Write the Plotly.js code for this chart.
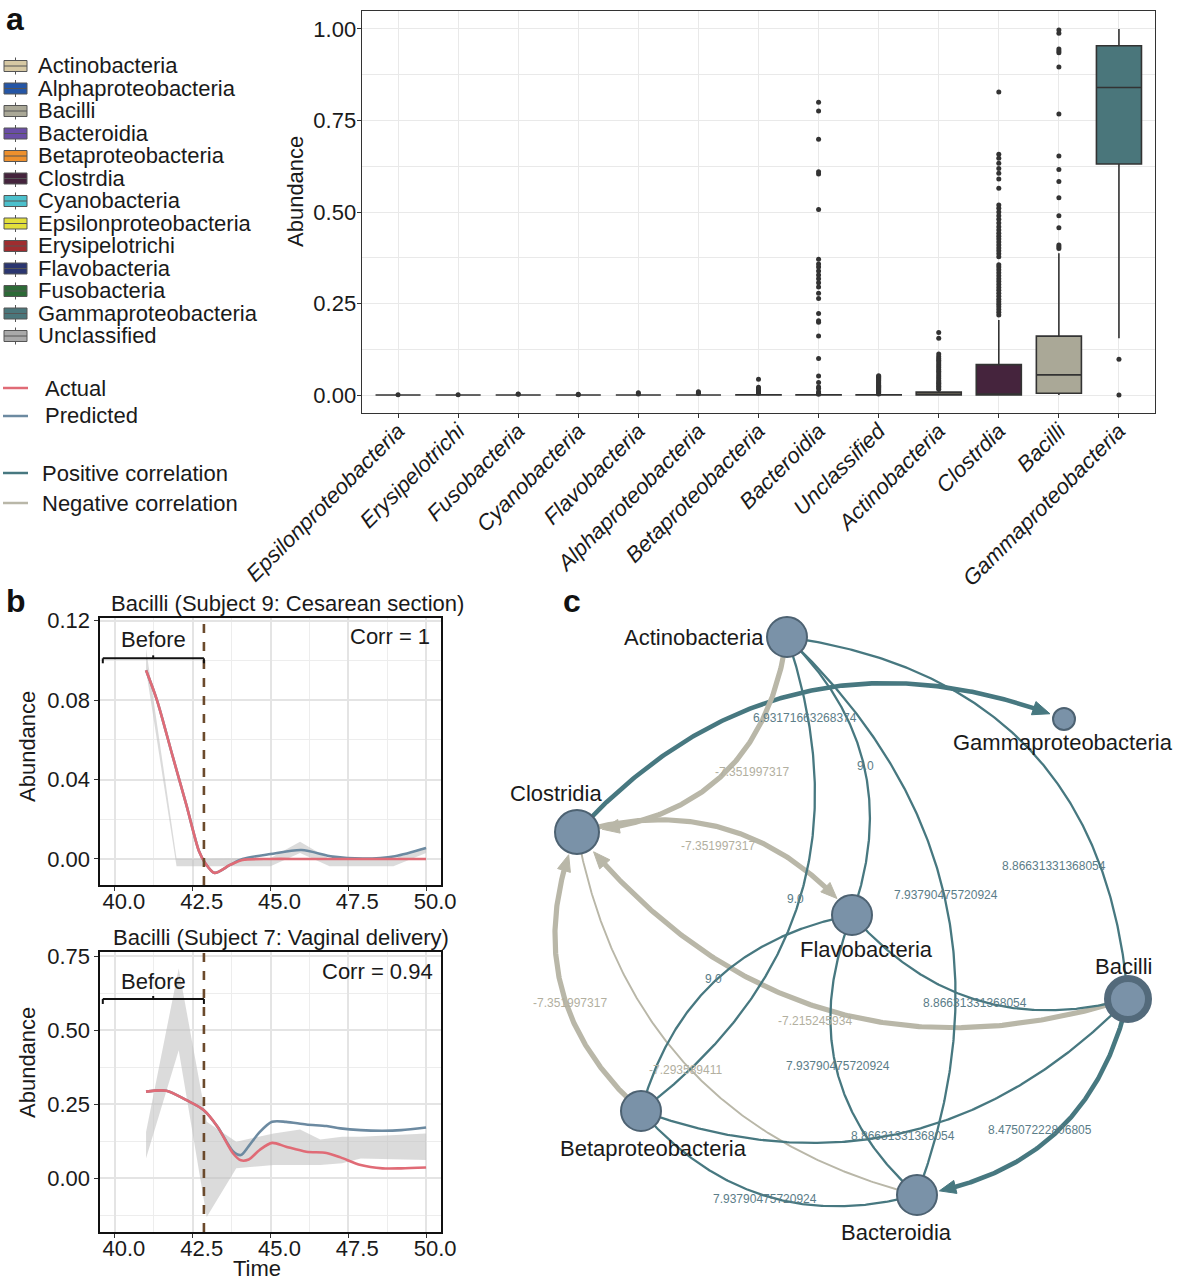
<!DOCTYPE html>
<html><head><meta charset="utf-8">
<script src="https://cdn.plot.ly/plotly-3.0.1.min.js"></script>
<style>html,body{margin:0;padding:0;background:#fff}#chart{width:1181px;height:1280px}</style>
</head><body><div id="chart"></div>
<script>
// ---------------- Panel a data ----------------
const categories = ['Epsilonproteobacteria','Erysipelotrichi','Fusobacteria','Cyanobacteria','Flavobacteria','Alphaproteobacteria','Betaproteobacteria','Bacteroidia','Unclassified','Actinobacteria','Clostrdia','Bacilli','Gammaproteobacteria'];
const boxQ1     = [0,0,0,0,0,0,0,0,0,0,0,0.005,0.631];
const boxMedian = [0,0,0,0,0,0,0,0,0,0.001,0.001,0.055,0.840];
const boxQ3     = [0,0,0,0,0,0,0.001,0.001,0.001,0.008,0.083,0.161,0.954];
const boxLower  = [0,0,0,0,0,0,0,0,0,0,0,0,0.155];
const boxUpper  = [0,0,0,0,0.001,0.001,0.002,0.002,0.002,0.014,0.205,0.387,1.0];

const outEpsilon = [0.001];
const outErysipelotrichi = [0.001];
const outFusobacteria = [0.002,0.003];
const outCyanobacteria = [0.001,0.002];
const outFlavobacteria = [0.003,0.006];
const outAlphaproteobacteria = [0.004,0.006,0.009];
const outBetaproteobacteria = [0.005,0.008,0.011,0.014,0.017,0.021,0.043];
const outBacteroidia = [0.002,0.005,0.009,0.018,0.022,0.034,0.052,0.10,0.161,0.199,0.203,0.223,0.264,0.278,0.295,0.307,0.318,0.328,0.339,0.35,0.358,0.371,0.507,0.604,0.610,0.699,0.776,0.800];
const outUnclassified = [0.003,0.006,0.009,0.012,0.015,0.018,0.021,0.024,0.027,0.030,0.033,0.036,0.039,0.042,0.045,0.048,0.051,0.053];
const outActinobacteria = [0.016,0.02,0.024,0.028,0.032,0.036,0.04,0.045,0.05,0.055,0.06,0.065,0.07,0.075,0.08,0.085,0.09,0.095,0.10,0.105,0.112,0.155,0.171];
const outClostrdia = [0.219,0.226,0.234,0.241,0.248,0.255,0.262,0.27,0.278,0.286,0.294,0.302,0.31,0.318,0.326,0.334,0.342,0.35,0.356,0.378,0.386,0.394,0.402,0.41,0.418,0.426,0.434,0.442,0.451,0.46,0.47,0.48,0.49,0.50,0.51,0.519,0.565,0.59,0.606,0.619,0.633,0.647,0.658,0.828];
const outBacilli = [0.40,0.405,0.41,0.457,0.49,0.539,0.583,0.616,0.653,0.768,0.896,0.935,0.94,0.945,0.988,0.997];
const outGammaproteobacteria = [0.0,0.098];

const legendClasses = ['Actinobacteria','Alphaproteobacteria','Bacilli','Bacteroidia','Betaproteobacteria','Clostrdia','Cyanobacteria','Epsilonproteobacteria','Erysipelotrichi','Flavobacteria','Fusobacteria','Gammaproteobacteria','Unclassified'];
const classColors = ['#d6c8a3','#2556a6','#aaa897','#6a4ea6','#ee902d','#45243d','#4cc0cc','#e2df3b','#a02c2f','#2b3670','#2d6a37','#4a767b','#a9a9a9'];

// ---------------- Panel b data ----------------
const birthTime = 42.86;
const s9Time      = [41.0,41.35,41.85,42.3,42.7,42.9,43.2,43.7,44.1,45.0,46.0,47.0,48.0,49.0,50.0];
const s9Actual    = [0.095,0.080,0.052,0.027,0.004,-0.002,-0.007,-0.003,-0.0005,0,0,0,0,0,0];
const s9Predicted = [0.095,0.080,0.052,0.027,0.004,-0.002,-0.007,-0.003,0.0,0.0025,0.0045,0.0012,0.0002,0.0014,0.0055];
const s9BandTime  = [41.0,41.98,43.0,44.0,45.0,45.95,46.9,48.0,48.95,50.0];
const s9BandHigh  = [0.106,0.0003,0.0003,0.0003,0.0005,0.0087,0.0,0.0,0.0,0.0062];
const s9BandLow   = [0.095,-0.0036,-0.0036,-0.0036,-0.0036,0.003,-0.0036,-0.0036,-0.0036,0.003];

const s7Time      = [41.0,41.65,42.3,42.85,43.3,43.8,44.05,44.3,44.65,45.05,45.5,46.15,46.8,47.25,47.9,48.6,49.2,50.0];
const s7Actual    = [0.292,0.295,0.263,0.23,0.173,0.083,0.06,0.063,0.095,0.119,0.106,0.089,0.085,0.07,0.044,0.033,0.033,0.036];
const s7Predicted = [0.292,0.295,0.263,0.23,0.173,0.09,0.078,0.108,0.155,0.19,0.19,0.181,0.176,0.168,0.162,0.16,0.162,0.171];
const s7BandTime  = [41.0,42.05,42.95,43.9,45.1,45.95,46.6,47.3,47.9,50.0];
const s7BandHigh  = [0.156,0.708,0.19,0.123,0.151,0.164,0.13,0.14,0.14,0.151];
const s7BandLow   = [0.067,0.432,-0.131,0.033,0.044,0.044,0.044,0.05,0.066,0.061];

// ---------------- Panel c data ----------------
const nodeNames = ['Actinobacteria','Gammaproteobacteria','Clostridia','Flavobacteria','Bacilli','Betaproteobacteria','Bacteroidia'];
const nodeX = [787,1064,577,852,1128,641,917];
const nodeY = [637,719,832,915,999,1111,1195];
const edgeFrom = ['Clostridia','Actinobacteria','Clostridia','Bacilli','Betaproteobacteria','Clostridia','Actinobacteria','Actinobacteria','Actinobacteria','Actinobacteria','Betaproteobacteria','Flavobacteria','Flavobacteria','Betaproteobacteria','Betaproteobacteria','Bacilli'];
const edgeTo   = ['Gammaproteobacteria','Clostridia','Flavobacteria','Clostridia','Clostridia','Bacteroidia','Bacilli','Bacteroidia','Flavobacteria','Betaproteobacteria','Flavobacteria','Bacilli','Bacteroidia','Bacilli','Bacteroidia','Bacteroidia'];
const edgeWeight = [6.93171663268374,-7.351997317,-7.351997317,-7.215245934,-7.351997317,-7.293589411,8.86631331368054,7.93790475720924,9.0,9.0,9.0,8.86631331368054,7.93790475720924,8.86631331368054,7.93790475720924,8.47507222806805];
const edgeLabel  = ['6.93171663268374','-7.351997317','-7.351997317','-7.215245934','-7.351997317','-7.293589411','8.86631331368054','7.93790475720924','9.0','9.0','9.0','8.86631331368054','7.93790475720924','8.86631331368054','7.93790475720924','8.47507222806805'];
const edgeDirected = [true,true,true,true,true,false,false,false,false,false,false,false,false,false,false,true];

// ---------------- style / layout helpers ----------------
const W = 1181, H = 1280;
const px = x => x / W, py = y => 1 - y / H;
const FONT = 'Liberation Sans, Arial, Helvetica, sans-serif';
const TXT = '#1a1a1a';
const nodeSize = [40,22,44,40,41,40,40];
const nodeRing = [2,2,2,2,7,2,2];
const nodeLabelDX = [-21,-1,-21,14,-5,12,-21];
const nodeLabelDY = [0,23,-39,34,-33,37,37];
const nodeLabelAnchor = ['right','center','center','center','center','center','center'];
const edgeBend = [-0.17,-0.2,-0.16,-0.17,-0.175,0.16,-0.2,-0.165,-0.16,-0.18,-0.156,0.156,0.174,0.16,0.156,-0.17];
const edgeLabelDX = [4,31,-10,-9,10,-3,24,2,2,-4,-2,-2,2,1,-1,-16];
const edgeLabelDY = [25,-5,16,12,20,2,116,0,0,-1,-1,3,0,3,3,-3];
const POS = '#477880', NEG = '#b9b7a8', POSLAB = '#5b7d88', NEGLAB = '#b2af9f';

const traces = [];
const shapes = [];
const annotations = [];

// ---------- Panel a: boxes ----------
const outSets = [outEpsilon,outErysipelotrichi,outFusobacteria,outCyanobacteria,outFlavobacteria,outAlphaproteobacteria,outBetaproteobacteria,outBacteroidia,outUnclassified,outActinobacteria,outClostrdia,outBacilli,outGammaproteobacteria];
categories.forEach((c, i) => {
  traces.push({
    type: 'box', x: [c], q1: [boxQ1[i]], median: [boxMedian[i]], q3: [boxQ3[i]],
    lowerfence: [boxLower[i]], upperfence: [boxUpper[i]],
    width: 0.75, whiskerwidth: 0, boxpoints: false,
    fillcolor: classColors[legendClasses.indexOf(c)],
    line: { color: '#333333', width: 1.6 },
    xaxis: 'x', yaxis: 'y', showlegend: false, hoverinfo: 'skip'
  });
});
const oX = [], oY = [];
outSets.forEach((arr, i) => arr.forEach(v => { oX.push(categories[i]); oY.push(v); }));
traces.push({ type: 'scatter', mode: 'markers', x: oX, y: oY, xaxis: 'x', yaxis: 'y',
  marker: { color: '#333333', size: 5, opacity: 1 }, showlegend: false, hoverinfo: 'skip' });

// ---------- Panel b ----------
function addSubject(t, hi, lo, bt, act, pred, xa, ya) {
  traces.push({ type: 'scatter', mode: 'lines', x: bt, y: hi, xaxis: xa, yaxis: ya, line: { width: 0, color: 'rgba(0,0,0,0)' }, showlegend: false, hoverinfo: 'skip' });
  traces.push({ type: 'scatter', mode: 'lines', x: bt, y: lo, xaxis: xa, yaxis: ya, fill: 'tonexty', fillcolor: 'rgba(190,190,190,0.55)', line: { width: 0, color: 'rgba(0,0,0,0)' }, showlegend: false, hoverinfo: 'skip' });
  traces.push({ type: 'scatter', mode: 'lines', x: t, y: pred, xaxis: xa, yaxis: ya, line: { color: '#6c8aa1', width: 2.6, shape: 'spline', smoothing: 0.8 }, showlegend: false, hoverinfo: 'skip' });
  traces.push({ type: 'scatter', mode: 'lines', x: t, y: act, xaxis: xa, yaxis: ya, line: { color: '#e06b76', width: 2.6, shape: 'spline', smoothing: 0.8 }, showlegend: false, hoverinfo: 'skip' });
}
addSubject(s9Time, s9BandHigh, s9BandLow, s9BandTime, s9Actual, s9Predicted, 'x2', 'y2');
addSubject(s7Time, s7BandHigh, s7BandLow, s7BandTime, s7Actual, s7Predicted, 'x3', 'y3');

[['x2','y2'],['x3','y3']].forEach(([xa, ya]) => {
  shapes.push({ type: 'line', xref: xa, yref: ya + ' domain', x0: birthTime, x1: birthTime, y0: 0, y1: 1,
    line: { color: '#6b4a2c', width: 2.6, dash: 'dash' } });
});
function bracket(xa, ya, yv, tickDown, tickUp, textY) {
  const l = { color: '#111', width: 2 };
  shapes.push({ type: 'line', xref: xa, yref: ya, x0: 39.61, x1: birthTime, y0: yv, y1: yv, line: l });
  shapes.push({ type: 'line', xref: xa, yref: ya, x0: 39.61, x1: 39.61, y0: yv, y1: yv - tickDown, line: l });
  shapes.push({ type: 'line', xref: xa, yref: ya, x0: birthTime, x1: birthTime, y0: yv, y1: yv - tickDown, line: l });
  shapes.push({ type: 'line', xref: xa, yref: ya, x0: 41.23, x1: 41.23, y0: yv, y1: yv + tickUp, line: l });
  annotations.push({ xref: xa, yref: ya, x: 41.23, y: textY, text: 'Before', showarrow: false, xanchor: 'center', yanchor: 'middle', font: { size: 22, color: TXT } });
}
bracket('x2', 'y2', 0.101, 0.0025, 0.0015, 0.1107);
bracket('x3', 'y3', 0.605, 0.017, 0.01, 0.6655);
annotations.push({ xref: 'x2 domain', yref: 'y2 domain', x: 0.975, y: 0.93, text: 'Corr = 1', showarrow: false, xanchor: 'right', yanchor: 'middle', font: { size: 22, color: TXT } });
annotations.push({ xref: 'x3 domain', yref: 'y3 domain', x: 0.982, y: 0.93, text: 'Corr = 0.94', showarrow: false, xanchor: 'right', yanchor: 'middle', font: { size: 22, color: TXT } });
annotations.push({ xref: 'paper', yref: 'paper', x: px(287), y: py(603), text: 'Bacilli (Subject 9: Cesarean section)', showarrow: false, xanchor: 'center', yanchor: 'middle', font: { size: 22, color: TXT } });
annotations.push({ xref: 'paper', yref: 'paper', x: px(281), y: py(937), text: 'Bacilli (Subject 7: Vaginal delivery)', showarrow: false, xanchor: 'center', yanchor: 'middle', font: { size: 22, color: TXT } });
annotations.push({ xref: 'paper', yref: 'paper', x: px(27), y: py(747), text: 'Abundance', textangle: -90, showarrow: false, xanchor: 'center', yanchor: 'middle', font: { size: 22, color: TXT } });
annotations.push({ xref: 'paper', yref: 'paper', x: px(27), y: py(1063), text: 'Abundance', textangle: -90, showarrow: false, xanchor: 'center', yanchor: 'middle', font: { size: 22, color: TXT } });
annotations.push({ xref: 'paper', yref: 'paper', x: px(257), y: py(1268), text: 'Time', showarrow: false, xanchor: 'center', yanchor: 'middle', font: { size: 22, color: TXT } });
annotations.push({ xref: 'paper', yref: 'paper', x: px(295), y: py(192), text: 'Abundance', textangle: -90, showarrow: false, xanchor: 'center', yanchor: 'middle', font: { size: 22, color: TXT } });

// panel letters
[['a', 15, 0], ['b', 16, 582], ['c', 572, 582]].forEach(([t, x, y]) => {
  annotations.push({ xref: 'paper', yref: 'paper', x: px(x), y: py(y), text: '<b>' + t + '</b>', showarrow: false, xanchor: 'center', yanchor: 'top', borderpad: 0, font: { size: 32, color: '#111' } });
});

// ---------- Legends (left) ----------
legendClasses.forEach((c, i) => {
  const y = 66 + i * 22.5;
  const l = { color: '#555', width: 1 };
  shapes.push({ type: 'rect', xref: 'paper', yref: 'paper', x0: px(4), x1: px(27), y0: py(y + 5.5), y1: py(y - 5.5), fillcolor: classColors[i], line: l });
  shapes.push({ type: 'line', xref: 'paper', yref: 'paper', x0: px(4), x1: px(27), y0: py(y), y1: py(y), line: l });
  shapes.push({ type: 'line', xref: 'paper', yref: 'paper', x0: px(15.5), x1: px(15.5), y0: py(y - 8.5), y1: py(y - 5.5), line: l });
  shapes.push({ type: 'line', xref: 'paper', yref: 'paper', x0: px(15.5), x1: px(15.5), y0: py(y + 5.5), y1: py(y + 8.5), line: l });
  annotations.push({ xref: 'paper', yref: 'paper', x: px(36), y: py(y), text: c, showarrow: false, xanchor: 'left', yanchor: 'middle', font: { size: 22, color: TXT } });
});
[['Actual', '#e06b76', 388, 43], ['Predicted', '#6c8aa1', 416, 43], ['Positive correlation', POS, 473, 40], ['Negative correlation', NEG, 503, 40]].forEach(([t, col, y, tx]) => {
  shapes.push({ type: 'line', xref: 'paper', yref: 'paper', x0: px(3), x1: px(28), y0: py(y), y1: py(y), line: { color: col, width: 2.5 } });
  annotations.push({ xref: 'paper', yref: 'paper', x: px(tx), y: py(y), text: t, showarrow: false, xanchor: 'left', yanchor: 'middle', font: { size: 22, color: TXT } });
});

// ---------- Panel c: network ----------
const idx = n => nodeNames.indexOf(n);
const outerR = i => nodeSize[i] / 2 + nodeRing[i] / 2;
function bez(a, c, b, t) { const u = 1 - t; return [u*u*a[0] + 2*u*t*c[0] + t*t*b[0], u*u*a[1] + 2*u*t*c[1] + t*t*b[1]]; }
edgeFrom.forEach((f, e) => {
  const ia = idx(f), ib = idx(edgeTo[e]);
  const A = [nodeX[ia], nodeY[ia]], B = [nodeX[ib], nodeY[ib]];
  const dx = B[0] - A[0], dy = B[1] - A[1];
  const M = [(A[0] + B[0]) / 2, (A[1] + B[1]) / 2];
  const C = [M[0] + 2 * edgeBend[e] * (-dy), M[1] + 2 * edgeBend[e] * dx];
  const N = 240;
  const pts = [];
  for (let k = 0; k <= N; k++) pts.push(bez(A, C, B, k / N));
  const pos = edgeWeight[e] > 0;
  const col = pos ? POS : NEG;
  const width = edgeDirected[e] ? (pos ? 4.6 : 5.2) : (pos ? 2.3 : 1.9);
  let linePts = pts;
  if (edgeDirected[e]) {
    const r = outerR(ib) + 1;
    let tip = N;
    while (tip > 0 && Math.hypot(pts[tip][0] - B[0], pts[tip][1] - B[1]) < r) tip--;
    let base = tip;
    const alen = 16;
    while (base > 0 && Math.hypot(pts[base][0] - pts[tip][0], pts[base][1] - pts[tip][1]) < alen) base--;
    linePts = pts.slice(0, base + 2);
    const T = pts[tip], Bs = pts[base];
    const ux = (T[0] - Bs[0]) / alen, uy = (T[1] - Bs[1]) / alen;
    const hw = 6.5;
    const p1 = [Bs[0] - uy * hw, Bs[1] + ux * hw], p2 = [Bs[0] + uy * hw, Bs[1] - ux * hw];
    traces.push({ type: 'scatter', mode: 'lines', x: [T[0], p1[0], p2[0], T[0]], y: [T[1], p1[1], p2[1], T[1]],
      fill: 'toself', fillcolor: col, line: { color: col, width: 1 }, xaxis: 'x4', yaxis: 'y4', showlegend: false, hoverinfo: 'skip', cliponaxis: false });
  }
  traces.push({ type: 'scatter', mode: 'lines', x: linePts.map(p => p[0]), y: linePts.map(p => p[1]),
    line: { color: col, width: width }, xaxis: 'x4', yaxis: 'y4', showlegend: false, hoverinfo: 'skip', cliponaxis: false });
  const mid = bez(A, C, B, 0.5);
  annotations.push({ xref: 'x4', yref: 'y4', x: mid[0] + edgeLabelDX[e], y: mid[1] + edgeLabelDY[e], text: edgeLabel[e], showarrow: false,
    xanchor: 'center', yanchor: 'middle', font: { size: 12, color: pos ? POSLAB : NEGLAB } });
});
traces.push({ type: 'scatter', mode: 'markers', x: nodeX, y: nodeY, xaxis: 'x4', yaxis: 'y4', cliponaxis: false,
  marker: { size: nodeSize, opacity: 1, color: '#7a92a8', line: { color: nodeRing.map(w => w > 2 ? '#536a7b' : '#4d6272'), width: nodeRing } },
  showlegend: false, hoverinfo: 'skip' });
nodeNames.forEach((n, i) => {
  annotations.push({ xref: 'x4', yref: 'y4', x: nodeX[i] + nodeLabelDX[i], y: nodeY[i] + nodeLabelDY[i], text: n, showarrow: false,
    xanchor: nodeLabelAnchor[i], yanchor: 'middle', font: { size: 22, color: TXT } });
});

// ---------- Layout ----------
const gridA = '#e9e9e9';
const bAxisX = (dom, anchor) => ({
  domain: dom, anchor: anchor, range: [39.52, 50.48], tick0: 40, dtick: 2.5, tickformat: '.1f',
  showgrid: true, gridcolor: '#e4e4e4', gridwidth: 2,
  minor: { dtick: 1.25, tick0: 40, showgrid: true, gridcolor: '#ededed', gridwidth: 1 },
  showline: true, mirror: true, linecolor: '#111', linewidth: 1.6, zeroline: false,
  ticks: 'outside', ticklen: 4, tickcolor: '#333', ticklabelshift: 9, ticklabelstandoff: -8,
  tickfont: { size: 22, color: TXT, family: FONT }, fixedrange: true
});
const layout = {
  width: W, height: H, margin: { l: 0, r: 0, t: 0, b: 0 },
  paper_bgcolor: '#ffffff', plot_bgcolor: 'rgba(0,0,0,0)', showlegend: false,
  font: { family: FONT, color: TXT },
  boxmode: 'overlay',
  xaxis: {
    domain: [px(362), px(1155)], anchor: 'y', type: 'category', categoryorder: 'array', categoryarray: categories,
    range: [-0.6, 12.6], showgrid: true, gridcolor: gridA, gridwidth: 1,
    showline: true, mirror: true, linecolor: '#333', linewidth: 1.4, zeroline: false,
    ticks: 'outside', ticklen: 4, tickcolor: '#333', tickangle: -45, ticklabelstandoff: -9,
    tickfont: { size: 22, style: 'italic', color: TXT, family: FONT }, fixedrange: true
  },
  yaxis: {
    domain: [py(413), py(11)], anchor: 'x', range: [-0.049, 1.049], tick0: 0, dtick: 0.25, tickformat: '.2f',
    showgrid: true, gridcolor: gridA, gridwidth: 1,
    minor: { dtick: 0.125, tick0: 0, showgrid: true, gridcolor: gridA, gridwidth: 1 },
    showline: true, mirror: true, linecolor: '#333', linewidth: 1.4, zeroline: false,
    ticks: 'outside', ticklen: 4, tickcolor: '#333', ticklabelstandoff: -4,
    tickfont: { size: 22, color: TXT, family: FONT }, fixedrange: true
  },
  xaxis2: bAxisX([px(100), px(441)], 'y2'),
  yaxis2: {
    domain: [py(885), py(618)], anchor: 'x2', range: [-0.0131, 0.1213], tick0: 0, dtick: 0.04, tickformat: '.2f',
    showgrid: true, gridcolor: '#e4e4e4', gridwidth: 2,
    minor: { dtick: 0.02, tick0: 0, showgrid: true, gridcolor: '#ededed', gridwidth: 1 },
    showline: true, mirror: true, linecolor: '#111', linewidth: 1.6, zeroline: false,
    ticks: 'outside', ticklen: 4, tickcolor: '#333',
    tickfont: { size: 22, color: TXT, family: FONT }, fixedrange: true
  },
  xaxis3: bAxisX([px(100), px(441)], 'y3'),
  yaxis3: {
    domain: [py(1232), py(952)], anchor: 'x3', range: [-0.182, 0.7635], tick0: 0, dtick: 0.25, tickformat: '.2f',
    showgrid: true, gridcolor: '#e4e4e4', gridwidth: 2,
    minor: { dtick: 0.125, tick0: 0, showgrid: true, gridcolor: '#ededed', gridwidth: 1 },
    showline: true, mirror: true, linecolor: '#111', linewidth: 1.6, zeroline: false,
    ticks: 'outside', ticklen: 4, tickcolor: '#333',
    tickfont: { size: 22, color: TXT, family: FONT }, fixedrange: true
  },
  xaxis4: { domain: [px(480), 1], anchor: 'y4', range: [480, 1181], visible: false, fixedrange: true },
  yaxis4: { domain: [0, py(590)], anchor: 'x4', range: [1280, 590], visible: false, fixedrange: true },
  shapes: shapes,
  annotations: annotations
};
Plotly.newPlot('chart', traces, layout, { staticPlot: true, displayModeBar: false });
</script>
</body></html>
